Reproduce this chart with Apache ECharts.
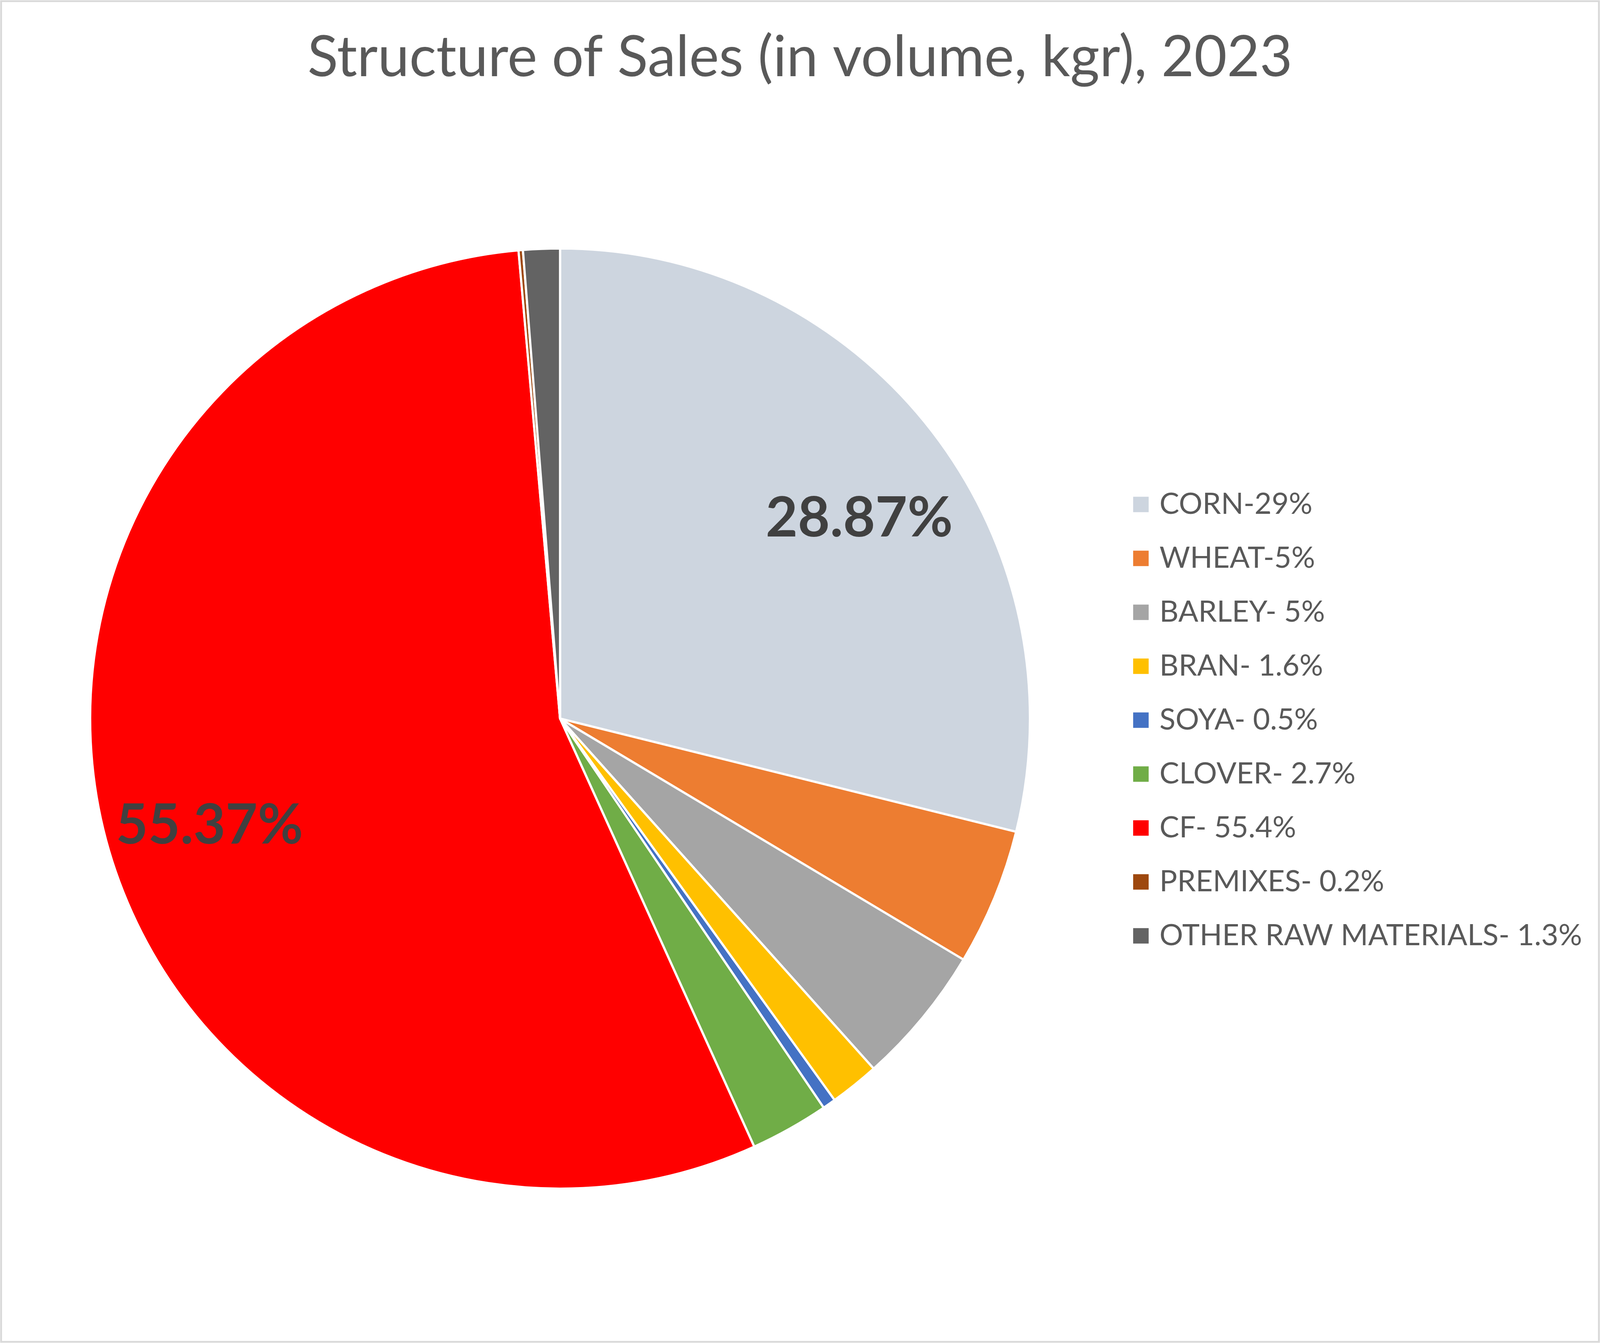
<!DOCTYPE html>
<html>
<head>
<meta charset="utf-8">
<script src="https://cdn.jsdelivr.net/npm/echarts@6/dist/echarts.min.js"></script>
<style>
html,body{margin:0;padding:0;background:#fff;overflow:hidden;}
#chart{width:100vw;height:100vh;}
</style>
</head>
<body>
<div id="chart"></div>
<script>
const titleText = 'Structure of Sales (in volume, kgr), 2023';
const categories = ['CORN-29%','WHEAT-5%','BARLEY- 5%','BRAN- 1.6%','SOYA- 0.5%','CLOVER- 2.7%','CF- 55.4%','PREMIXES- 0.2%','OTHER RAW MATERIALS- 1.3%'];
const values = [28.87, 4.7, 4.8, 1.7, 0.45, 2.7, 55.37, 0.15, 1.26];
const colors = ['#CDD5DF','#ED7D31','#A5A5A5','#FFC000','#4472C4','#70AD47','#FF0000','#9E480E','#636363'];
const labelled = ['CORN-29%','CF- 55.4%'];

const W = window.innerWidth, H = window.innerHeight;
const sx = W / 4331, sy = H / 3437;
const s = Math.min(sx, sy);
const X = v => v * sx;   // horizontal positions
const Y = v => v * sy;   // vertical positions
const S = v => v * s;    // sizes

const mainData = categories.map((c,i)=>({name:c, value:values[i], itemStyle:{color:colors[i]}}));
const labelOffsets = {'CORN-29%':[37,63], 'CF- 55.4%':[0,40]};
const labelData = categories.map((c,i)=>({
  name:c, value:values[i],
  label:{show: labelled.includes(c), offset: (labelOffsets[c] || [0,0]).map(S)}
}));

const chart = echarts.init(document.getElementById('chart'), null, {renderer:'canvas'});
chart.setOption({
  animation:false,
  backgroundColor:'#ffffff',
  color: colors,
  title:{
    text:titleText, left:'center', top:Y(143) - S(80),
    textStyle:{fontFamily:'Lato', fontWeight:'normal', fontSize:S(153), color:'#595959', lineHeight:S(160)}
  },
  legend:{
    orient:'vertical', left:X(3062), top:Y(1286) - S(50),
    icon:'rect', itemWidth:S(42), itemHeight:S(42), itemGap:Y(138) - S(100),
    data: categories,
    itemStyle:{borderWidth:0},
    textStyle:{fontFamily:'Lato', fontSize:S(80), color:'#595959', lineHeight:S(100), padding:[0,0,0,S(24)]}
  },
  graphic:[{
    type:'rect', shape:{x:X(3), y:Y(3), width:X(4325), height:Y(3431)},
    style:{fill:'none', stroke:'#D9D9D9', lineWidth:S(5)}, silent:true, z:-10
  }],
  series:[
    {
      type:'pie', center:[X(1516),Y(1839)], radius:[0,S(1272)],
      startAngle:90, clockwise:true, avoidLabelOverlap:false,
      itemStyle:{borderColor:'#ffffff', borderWidth:S(6)},
      label:{show:false}, labelLine:{show:false},
      emphasis:{disabled:true},
      data: mainData
    },
    {
      type:'pie', center:[X(1516),Y(1839)], radius:[S(684),S(1272)],
      startAngle:90, clockwise:true, avoidLabelOverlap:false, silent:true,
      itemStyle:{color:'rgba(0,0,0,0)', borderWidth:0},
      label:{position:'inside', formatter:'{d}%', fontFamily:'Lato', fontWeight:'bold', fontSize:S(150), color:'#404040'},
      labelLine:{show:false},
      emphasis:{disabled:true},
      legendHoverLink:false,
      data: labelData,
      z:5
    }
  ]
});
</script>
</body>
</html>
